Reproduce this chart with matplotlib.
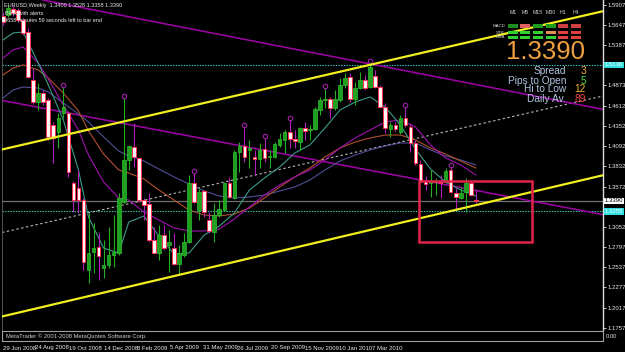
import matplotlib
matplotlib.use('Agg')
import matplotlib.pyplot as plt
import matplotlib.transforms as mtransforms
from matplotlib.patches import Rectangle
import numpy as np

plt.rcParams['font.family'] = ['Liberation Sans', 'DejaVu Sans']

# ---------------- data ----------------
symbol_title = "EURUSD,Weekly  1.3400 1.3528 1.3358 1.3390"
opens = [1.5765, 1.5778, 1.5855, 1.5843, 1.5714, 1.5560, 1.4943, 1.4660, 1.4776, 1.4686,
         1.4365, 1.4275, 1.4519, 1.4519, 1.3619, 1.3555, 1.3401, 1.2502, 1.2733, 1.2797,
         1.2527, 1.2566, 1.2694, 1.2720, 1.3375, 1.3915, 1.4082, 1.3941, 1.3401, 1.3350,
         1.2887, 1.2720, 1.2951, 1.2823, 1.2784, 1.2579, 1.2694, 1.2861, 1.3619, 1.3272,
         1.3517, 1.3144, 1.2990, 1.3208, 1.3272, 1.3619, 1.3427, 1.4018, 1.4095, 1.4044,
         1.3954, 1.3928, 1.4056, 1.3954, 1.3954, 1.4108, 1.4172, 1.4275, 1.4185, 1.4146,
         1.4326, 1.4301, 1.4313, 1.4558, 1.4686, 1.4699, 1.4583, 1.4686, 1.4879, 1.4982,
         1.4699, 1.4840, 1.4943, 1.4853, 1.4995, 1.4853, 1.4596, 1.4313, 1.4365, 1.4275,
         1.4455, 1.4339, 1.4134, 1.3864, 1.3645, 1.3619, 1.3632, 1.3632, 1.3632, 1.3787,
         1.3491, 1.3427, 1.3504, 1.3619, 1.3400]
highs = [1.5817, 1.5907, 1.5894, 1.5868, 1.5740, 1.5611, 1.5097, 1.4904, 1.4815, 1.4712,
         1.4403, 1.4519, 1.4853, 1.4545, 1.3645, 1.3787, 1.3427, 1.3234, 1.3105, 1.2977,
         1.2887, 1.3054, 1.3208, 1.3491, 1.4712, 1.4108, 1.4390, 1.3954, 1.3427, 1.3491,
         1.3054, 1.3080, 1.3080, 1.3016, 1.2977, 1.2823, 1.2977, 1.3722, 1.3748, 1.3555,
         1.3530, 1.3247, 1.3362, 1.3401, 1.3632, 1.3697, 1.4044, 1.4146, 1.4339, 1.4172,
         1.4044, 1.4134, 1.4198, 1.4044, 1.4146, 1.4262, 1.4301, 1.4429, 1.4301, 1.4339,
         1.4403, 1.4365, 1.4596, 1.4725, 1.4840, 1.4725, 1.4815, 1.4969, 1.5033, 1.5033,
         1.4917, 1.5046, 1.5007, 1.5161, 1.5072, 1.4879, 1.4647, 1.4403, 1.4403, 1.4493,
         1.4596, 1.4390, 1.4172, 1.3915, 1.3709, 1.3787, 1.3684, 1.3722, 1.3812, 1.3825,
         1.3555, 1.3568, 1.3684, 1.3658, 1.3528]
lows = [1.5650, 1.5753, 1.5765, 1.5688, 1.5521, 1.4969, 1.4635, 1.4558, 1.4622, 1.4172,
        1.3876, 1.4069, 1.4455, 1.3697, 1.3247, 1.3234, 1.2502, 1.2330, 1.2463, 1.2373,
        1.2399, 1.2527, 1.2540, 1.2694, 1.3362, 1.3787, 1.3825, 1.3375, 1.3144, 1.2861,
        1.2707, 1.2630, 1.2759, 1.2476, 1.2566, 1.2450, 1.2669, 1.2848, 1.3362, 1.3144,
        1.3182, 1.2977, 1.2861, 1.3182, 1.3260, 1.3427, 1.3414, 1.3761, 1.3889, 1.3812,
        1.3722, 1.3812, 1.3889, 1.3812, 1.3941, 1.4082, 1.4005, 1.4069, 1.4069, 1.4044,
        1.4172, 1.4172, 1.4301, 1.4493, 1.4583, 1.4455, 1.4558, 1.4660, 1.4840, 1.4660,
        1.4622, 1.4827, 1.4815, 1.4840, 1.4840, 1.4583, 1.4262, 1.4211, 1.4288, 1.4249,
        1.4339, 1.4018, 1.3851, 1.3619, 1.3530, 1.3440, 1.3465, 1.3427, 1.3619, 1.3491,
        1.3272, 1.3414, 1.3247, 1.3452, 1.3358]
closes = [1.5688, 1.5868, 1.5804, 1.5714, 1.5547, 1.4982, 1.4660, 1.4776, 1.4660, 1.4211,
          1.4198, 1.4455, 1.4596, 1.3761, 1.3401, 1.3401, 1.2604, 1.2720, 1.2784, 1.2681,
          1.2566, 1.2694, 1.2733, 1.3427, 1.3915, 1.4095, 1.3954, 1.3401, 1.3337, 1.2887,
          1.2720, 1.2951, 1.2784, 1.2861, 1.2579, 1.2720, 1.2861, 1.3619, 1.3375, 1.3504,
          1.3247, 1.3003, 1.3208, 1.3285, 1.3619, 1.3440, 1.4018, 1.4095, 1.3954, 1.4069,
          1.3928, 1.4044, 1.3941, 1.3966, 1.4121, 1.4185, 1.4275, 1.4185, 1.4159, 1.4326,
          1.4288, 1.4313, 1.4570, 1.4686, 1.4699, 1.4583, 1.4699, 1.4879, 1.4969, 1.4699,
          1.4840, 1.4943, 1.4840, 1.5110, 1.4853, 1.4596, 1.4326, 1.4365, 1.4313, 1.4455,
          1.4365, 1.4134, 1.3876, 1.3645, 1.3607, 1.3645, 1.3645, 1.3619, 1.3774, 1.3504,
          1.3440, 1.3491, 1.3619, 1.3465, 1.3390]

fractal_up = [12, 24, 38, 48, 52, 57, 64, 73, 80, 89]

ma_idx = [0, 2, 4, 7, 9, 12, 15, 17, 20, 23, 25, 28, 31, 34, 37, 40, 43, 46, 49, 52,
          55, 58, 61, 64, 67, 70, 73, 76, 79, 82, 85, 88, 91, 94]
ma_fast = [1.5457, 1.5547, 1.5560, 1.5161, 1.4879, 1.4429, 1.3787, 1.3182, 1.2784, 1.2720,
           1.3118, 1.3195, 1.2938, 1.2707, 1.2720, 1.2951, 1.3067, 1.3234, 1.3530, 1.3684,
           1.3825, 1.4005, 1.4108, 1.4326, 1.4558, 1.4660, 1.4725, 1.4596, 1.4365, 1.4056,
           1.3799, 1.3632, 1.3530, 1.3452]
ma_mid = [1.5226, 1.5329, 1.5367, 1.5161, 1.4956, 1.4622, 1.4301, 1.3979, 1.3632, 1.3427,
          1.3401, 1.3247, 1.3144, 1.3041, 1.3003, 1.3003, 1.3028, 1.3157, 1.3311, 1.3465,
          1.3594, 1.3697, 1.3787, 1.3915, 1.4069, 1.4198, 1.4301, 1.4403, 1.4429, 1.4339,
          1.4108, 1.3941, 1.3851, 1.3722]
ma_slow = [1.5007, 1.5097, 1.5136, 1.5072, 1.4969, 1.4776, 1.4545, 1.4288, 1.3992, 1.3787,
           1.3748, 1.3671, 1.3530, 1.3401, 1.3272, 1.3208, 1.3195, 1.3221, 1.3298, 1.3427,
           1.3568, 1.3697, 1.3812, 1.3954, 1.4069, 1.4146, 1.4198, 1.4236, 1.4236, 1.4172,
           1.4069, 1.3992, 1.3902, 1.3812]
ma_long = [1.4712, 1.4815, 1.4853, 1.4840, 1.4789, 1.4647, 1.4506, 1.4403, 1.4211, 1.4031,
           1.3966, 1.3902, 1.3799, 1.3697, 1.3607, 1.3517, 1.3452, 1.3427, 1.3440, 1.3465,
           1.3517, 1.3568, 1.3658, 1.3787, 1.3902, 1.3979, 1.4044, 1.4095, 1.4134, 1.4134,
           1.4044, 1.3966, 1.3915, 1.3851]

# trend lines: (bar, price) anchor pairs
yellow_upper = [(0, 1.4053), (94, 1.5451)]
yellow_lower = [(0, 1.1907), (94, 1.3335)]
mid_dashed = [(0, 1.2986), (94, 1.4366)]
magenta_upper = [(0, 1.6071), (94, 1.4885)]
magenta_lower = [(0, 1.4678), (94, 1.3524)]

hline_top = 1.5136
hline_low = 1.3255
bid = 1.3390

rect_t = (82.7, 105.2)
rect_p = (1.2861, 1.3645)

ytick_vals = [1.5907, 1.5647, 1.5387, 1.4873, 1.4612, 1.4352, 1.4092, 1.3832, 1.3572,
              1.3052, 1.2797, 1.2537, 1.2277, 1.2017, 1.1757]

date_pos = [0.0, 6.4, 13.1, 20.1, 26.6, 33.2, 39.8, 46.5, 53.3, 60.0, 66.8, 73.4]
date_labels = ["29 Jun 2008", "24 Aug 2008", "19 Oct 2008", "14 Dec 2008", "8 Feb 2009",
               "5 Apr 2009", "31 May 2009", "26 Jul 2009", "20 Sep 2009", "15 Nov 2009",
               "10 Jan 2010", "7 Mar 2010"]

tf_labels = ["M1", "M5", "M15", "M30", "H1", "H4"]
sig_rows = ["MACD", "STR", "EMA"]
sig_colors = [["#1E8C1E", "#E06060", "#1E9E1E", "#1E9E1E", "#D04040", "#D04040"],
              ["#30D030", "#30D030", "#30D030", "#E09050", "#E04040", "#E04040"],
              ["#30D030", "#30D030", "#30D030", "#30D030", "#E04040", "#E04040"]]
stat_labels = ["Spread", "Pips to Open", "Hi to Low", "Daily Av."]
stat_values = ["3", "5", "12", "89"]
stat_colors = ["#F0B030", "#40E040", "#F0B030", "#F04040"]

# ---------------- figure ----------------
W, H = 625, 352
fig = plt.figure(figsize=(W / 100, H / 100), dpi=100, facecolor='black')


def px_rect(x0, y0, x1, y1):
    return [x0 / W, 1 - y1 / H, (x1 - x0) / W, (y1 - y0) / H]


PXB = 5.03  # pixels per bar
ax = fig.add_axes(px_rect(2, 0, 603, 330))
ax.set_facecolor('black')
ax.set_xlim(-0.2, -0.2 + 601 / PXB)
ax.set_ylim(1.5971 - 330 * 0.001285, 1.5971)
for s in ['top', 'bottom']:
    ax.spines[s].set_visible(False)
ax.spines['left'].set_color('#606060')
ax.spines['left'].set_linewidth(0.6)
ax.spines['right'].set_color('#E0E0E0')
ax.spines['right'].set_linewidth(1.0)
ax.set_xticks([])
ax.yaxis.tick_right()
ax.set_yticks(ytick_vals)
ax.set_yticklabels([f"{v:.4f}" for v in ytick_vals])
ax.tick_params(axis='y', colors='#E8E8E8', labelsize=4.3, length=2, width=0.6, pad=1.2)

# horizontal lines
ax.axhline(hline_top, color='#40C8C8', lw=0.8, ls=(0, (1.2, 1.2)), zorder=1)
ax.axhline(hline_low, color='#40D0B0', lw=0.8, ls=(0, (1.2, 1.2)), zorder=1)
ax.axhline(bid, color='#707070', lw=0.9, zorder=1)

# trend lines
ax.axline(*mid_dashed, color='#B8B8B8', lw=0.8, ls=(0, (2.2, 2.2)), zorder=1)
ax.axline(*magenta_upper, color='#A000A8', lw=1.1, zorder=1)
ax.axline(*magenta_lower, color='#A000A8', lw=1.1, zorder=1)

# moving averages
ax.plot(ma_idx, ma_long, color='#505098', lw=0.8, zorder=2)
ax.plot(ma_idx, ma_slow, color='#B05030', lw=0.8, zorder=2)
ax.plot(ma_idx, ma_mid, color='#A010B0', lw=0.8, zorder=2)
ax.plot(ma_idx, ma_fast, color='#3A9A88', lw=0.8, zorder=2)

# candles
idx = np.arange(len(opens))
o = np.array(opens); h = np.array(highs); l = np.array(lows); c = np.array(closes)
bull = c >= o
wick_col = np.where(bull, '#22B022', '#B020B8')
ax.vlines(idx, l, h, colors=wick_col, lw=0.8, zorder=3)
bottom = np.minimum(o, c)
height = np.maximum(np.abs(c - o), 0.0012)
ax.bar(idx[bull], height[bull], bottom=bottom[bull], width=0.72,
       color='#20A020', edgecolor='#30C030', lw=0.5, zorder=4)
ax.bar(idx[~bull], height[~bull], bottom=bottom[~bull], width=0.72,
       color='#FFF4F4', edgecolor='#FF3050', lw=0.7, zorder=4)

# fractal markers
off = mtransforms.offset_copy(ax.transData, fig=fig, y=2, units='dots')
ax.plot(fractal_up, h[fractal_up], 'o', mfc='none', mec='#A020A8', ms=3.2, mew=0.8,
        transform=off, zorder=5)

# yellow channel
ax.axline(*yellow_upper, color='#F0F020', lw=1.6, zorder=5)
ax.axline(*yellow_lower, color='#F0F020', lw=1.6, zorder=5)

# rectangle
ax.add_patch(Rectangle((rect_t[0], rect_p[0]), rect_t[1] - rect_t[0], rect_p[1] - rect_p[0],
                       fill=False, ec='#E0244C', lw=1.8, zorder=6))

# highlighted price labels on the axis
tlab = mtransforms.blended_transform_factory(fig.transFigure, ax.transData)
for val, fc, tc in [(hline_top, '#30E0E0', 'white'), (bid, 'white', 'black'),
                    (hline_low, '#30E0E0', 'white')]:
    ax.text(605 / W, val, f"{val:.4f}", transform=tlab, fontsize=4.3, color=tc,
            va='center', ha='left', clip_on=False,
            bbox=dict(boxstyle='square,pad=0.12', fc=fc, ec='none'), zorder=10)

# sub window
sub = fig.add_axes(px_rect(2, 331, 603, 341))
sub.set_facecolor('black')
for s in sub.spines.values():
    s.set_color('#A0A0A0')
    s.set_linewidth(0.8)
sub.set_xticks([]); sub.set_yticks([])
sub.text(0.006, 0.5, "MetaTrader \u00a9 2001-2008 MetaQuotes Software Corp.", transform=sub.transAxes,
         fontsize=4.2, color='#D0D0D0', va='center')
fig.text(606 / W, 1 - 336 / H, "0.00", fontsize=4.2, color='#E0E0E0', va='center')

# date labels
tdate = mtransforms.blended_transform_factory(ax.transData, fig.transFigure)
for p, lab in zip(date_pos, date_labels):
    ax.text(p, 1 - 349.5 / H, lab, transform=tdate, fontsize=4.3, color='#E8E8E8',
            va='baseline', ha='left', clip_on=False)

# top-left info
fig.text(4 / W, 1 - 6 / H, symbol_title, fontsize=4.0, color='#E8E8E8', va='center')
fig.text(5 / W, 1 - 13.5 / H, "Blink with alerts", fontsize=4.0, color='#E8E8E8', va='center')
fig.text(4 / W, 1 - 20.5 / H, "4658 minutes 59 seconds left to bar end", fontsize=4.0,
         color='#E8E8E8', va='center')

# top-right panel
col_x = [513, 525, 538, 551, 563, 576]
for x, lab in zip(col_x, tf_labels):
    fig.text(x / W, 1 - 12 / H, lab, fontsize=3.8, color='#D0D0D0', ha='center', va='center')
row_y = [26, 32.5, 37.5]
for r, (yy, rl) in enumerate(zip(row_y, sig_rows)):
    fig.text(505 / W, 1 - yy / H, rl, fontsize=3.2, color='#D0D0D0', ha='right', va='center')
    for cidx, x in enumerate(col_x):
        fig.add_artist(Rectangle(((x - 5) / W, 1 - (yy + 1.6) / H), 10 / W, 3.2 / H,
                                 transform=fig.transFigure, fc=sig_colors[r][cidx], ec='none'))
fig.text(506 / W, 1 - 52 / H, f"{bid:.4f}", fontsize=18.5, color='#F0A040', ha='left', va='center')
stat_y = [71, 80.5, 89.5, 98.5]
for yy, lab, v, col in zip(stat_y, stat_labels, stat_values, stat_colors):
    fig.text(566 / W, 1 - yy / H, lab, fontsize=7.3, color='#B0C4DE', ha='right', va='center')
    fig.text(586 / W, 1 - yy / H, v, fontsize=7.3, color=col, ha='right', va='center')

fig.savefig('out.png', dpi=100, facecolor='black')
